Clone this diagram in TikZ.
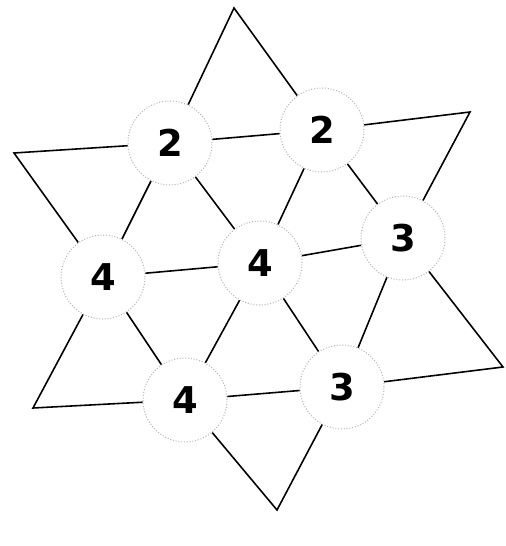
\documentclass[tikz,border=0pt]{standalone}
\usepackage{fontspec}
\setsansfont{DejaVu Sans}
\usepackage{tikz}
\usetikzlibrary{positioning}

\begin{document}
\begin{tikzpicture}[
  x=0.02cm, y=-0.02cm,
  numdisc/.style={circle, draw=gray!55, fill=white, densely dotted, line width=0.6pt,
                  minimum size=1.68cm, inner sep=0pt,
                  font=\sffamily\bfseries\fontsize{21}{21}\selectfont},
  edge/.style={draw=black, line width=0.9pt}
]
\useasboundingbox (0,0) rectangle (505,546);

% star tips
\coordinate (tipN)  at (234,8);
\coordinate (tipNE) at (470,112);
\coordinate (tipSE) at (503,367);
\coordinate (tipS)  at (277,510);
\coordinate (tipSW) at (33,408);
\coordinate (tipNW) at (14,153);

% numbered discs
\node[numdisc] (twoL)   at (170,143) {2};
\node[numdisc] (twoR)   at (322,130) {2};
\node[numdisc] (threeR) at (403,238) {3};
\node[numdisc] (threeB) at (342,387) {3};
\node[numdisc] (fourB)  at (185,400) {4};
\node[numdisc] (fourL)  at (103,277) {4};
\node[numdisc] (fourC)  at (260,263) {4};

% inner hexagon and spokes
\draw[edge] (twoL) -- (twoR) -- (threeR) -- (threeB) -- (fourB) -- (fourL) -- (twoL);
\foreach \n in {twoL,twoR,threeR,threeB,fourB,fourL}
  \draw[edge] (fourC) -- (\n);

% outer points
\draw[edge] (twoL) -- (tipN) -- (twoR);
\draw[edge] (twoR) -- (tipNE) -- (threeR);
\draw[edge] (threeR) -- (tipSE) -- (threeB);
\draw[edge] (threeB) -- (tipS) -- (fourB);
\draw[edge] (fourB) -- (tipSW) -- (fourL);
\draw[edge] (fourL) -- (tipNW) -- (twoL);
\end{tikzpicture}
\end{document}
